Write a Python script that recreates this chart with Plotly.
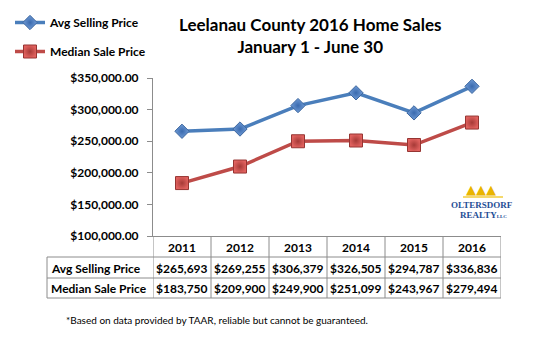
import plotly.graph_objects as go

years = ["2011", "2012", "2013", "2014", "2015", "2016"]
avg_price = [265693, 269255, 306379, 326505, 294787, 336836]
median_price = [183750, 209900, 249900, 251099, 243967, 279494]
series_names = ["Avg Selling Price", "Median Sale Price"]

FONT = "Lato"
BLUE = "#4A7EBB"
RED = "#BE4B48"
GRID = "#8C8C8C"

# plot area in pixels
L, R, T, B = 153, 501, 78, 236
W, H = R - L, B - T


def py(p):
    return (B - p) / H


def px(p):
    return (p - L) / W


fig = go.Figure()
fig.add_trace(go.Scatter(
    x=years, y=avg_price, name="<b>%s</b>" % series_names[0], mode="lines+markers",
    line=dict(color=BLUE, width=3.5), legendgroup="a",
    marker=dict(symbol="diamond", size=11, color="#6F9BD6",
                gradient=dict(type="radial", color="#3A6AAE"),
                line=dict(color="#3D679F", width=1)),
))
fig.add_trace(go.Scatter(
    x=years, y=median_price, name="<b>%s</b>" % series_names[1], mode="lines+markers",
    line=dict(color=RED, width=3.5), legendgroup="b",
    marker=dict(symbol="square", size=13, color="#E0615E",
                gradient=dict(type="radial", color="#A63A37"),
                line=dict(color="#963532", width=1)),
))

shapes = []
annotations = []
n = len(years)
# table grid
label_left = px(47)
for yy in [257, 278, 298]:
    shapes.append(dict(type="line", xref="paper", yref="paper", x0=label_left, x1=1,
                       y0=py(yy), y1=py(yy), line=dict(color=GRID, width=1)))
for k in range(n + 1):
    shapes.append(dict(type="line", xref="x", yref="paper", x0=k - 0.5, x1=k - 0.5,
                       y0=0, y1=py(298), line=dict(color=GRID, width=1)))
shapes.append(dict(type="line", xref="paper", yref="paper", x0=label_left, x1=label_left,
                   y0=py(257), y1=py(298), line=dict(color=GRID, width=1)))

row_centers = [247, 268, 288]
cell_font = dict(family=FONT, size=12, color="black")
for j, yr in enumerate(years):
    annotations.append(dict(x=j, xref="x", y=py(row_centers[0]), yref="paper", text="<b>%s</b>" % yr,
                            showarrow=False, font=cell_font, xanchor="center", yanchor="middle"))
    annotations.append(dict(x=j, xref="x", y=py(row_centers[1]), yref="paper",
                            text="<b>$%s</b>" % format(avg_price[j], ","),
                            showarrow=False, font=cell_font, xanchor="center", yanchor="middle"))
    annotations.append(dict(x=j, xref="x", y=py(row_centers[2]), yref="paper",
                            text="<b>$%s</b>" % format(median_price[j], ","),
                            showarrow=False, font=cell_font, xanchor="center", yanchor="middle"))
for i, nm in enumerate(series_names):
    annotations.append(dict(x=px(49), xref="paper", y=py(row_centers[i + 1]), yref="paper",
                            text="<b>%s</b>" % nm, showarrow=False, font=cell_font,
                            xanchor="left", yanchor="middle"))

# title
annotations.append(dict(x=px(310), xref="paper", y=py(12), yref="paper",
                        text="<b>Leelanau County 2016 Home Sales<br>January 1 - June 30</b>",
                        showarrow=False, font=dict(family=FONT, size=17, color="black"),
                        xanchor="center", yanchor="top", align="center"))

# footnote
annotations.append(dict(x=px(64), xref="paper", y=py(320), yref="paper",
                        text="*Based on data provided by TAAR, reliable but cannot be guaranteed.",
                        showarrow=False, font=dict(family=FONT, size=10, color="black"),
                        xanchor="left", yanchor="middle"))

# logo
annotations.append(dict(x=px(481), xref="paper", y=py(189), yref="paper", text="▲▲▲",
                        showarrow=False, font=dict(family="DejaVu Sans", size=13, color="#E9B400"),
                        xanchor="center", yanchor="middle"))
shapes.append(dict(type="line", xref="paper", yref="paper", x0=px(463), x1=px(503),
                   y0=py(197), y1=py(197), line=dict(color="#F2CC3A", width=1.5)))
annotations.append(dict(x=px(482), xref="paper", y=py(205), yref="paper", text="<b>OLTERSDORF</b>",
                        showarrow=False, font=dict(family="Liberation Serif", size=9, color="#1F4E96"),
                        xanchor="center", yanchor="middle"))
annotations.append(dict(x=px(483), xref="paper", y=py(215), yref="paper",
                        text="<b>REALTY</b><span style='font-size:5px'><b>LLC</b></span>",
                        showarrow=False, font=dict(family="Liberation Serif", size=9, color="#1F4E96"),
                        xanchor="center", yanchor="middle"))

fig.update_layout(
    width=540, height=340,
    margin=dict(l=L, r=540 - R, t=T, b=340 - B, pad=0, autoexpand=False),
    paper_bgcolor="white", plot_bgcolor="white",
    font=dict(family=FONT, color="black"),
    showlegend=True,
    legend=dict(xref="container", yref="container", x=10 / 540, y=1 - 8 / 340,
                xanchor="left", yanchor="top", traceorder="grouped", tracegroupgap=10,
                font=dict(family=FONT, size=12, color="black"), bgcolor="rgba(0,0,0,0)"),
    xaxis=dict(type="category", range=[-0.5, n - 0.5], showticklabels=False, ticks="",
               showline=True, linecolor=GRID, linewidth=1, showgrid=False, zeroline=False,
               fixedrange=True, automargin=False),
    yaxis=dict(range=[100000, 350000], dtick=50000, tickformat="$,.2f", showgrid=False,
               zeroline=False, showline=True, linecolor=GRID, linewidth=1, automargin=False,
               ticks="outside", ticklen=5, tickcolor=GRID, ticklabelstandoff=6,
               tickfont=dict(family=FONT, size=12, color="black", weight="bold")),
    shapes=shapes, annotations=annotations,
)

fig.write_html("out.html")
